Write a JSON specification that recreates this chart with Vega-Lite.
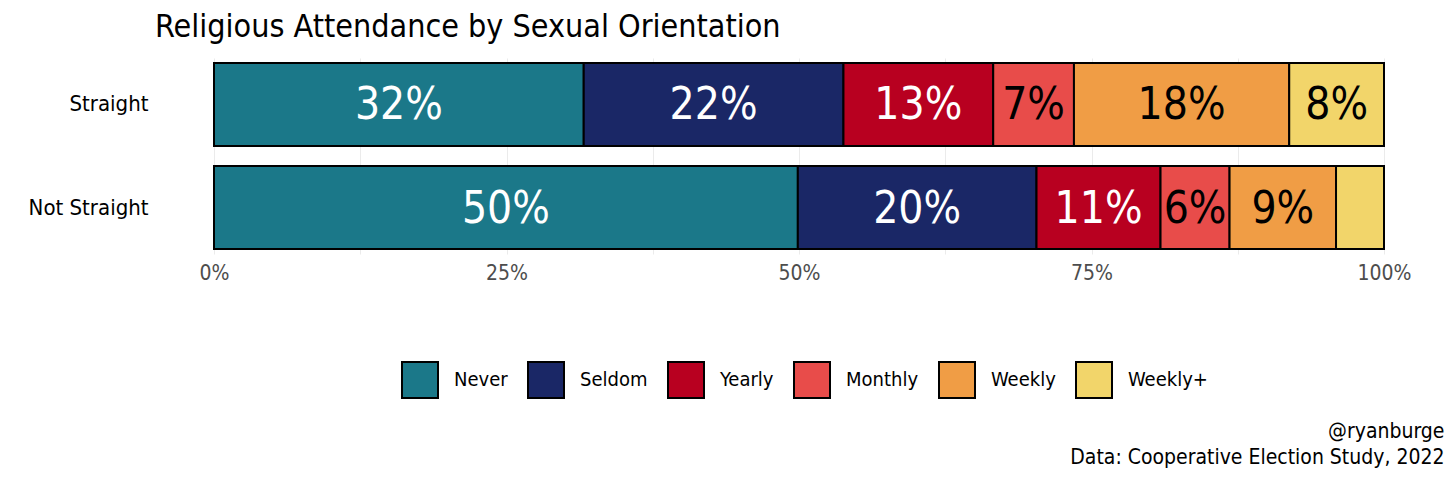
{
  "$schema": "https://vega.github.io/schema/vega-lite/v6.json",
  "autosize": "none",
  "width": 1170,
  "height": 196,
  "padding": {"left": 214, "top": 58, "right": 72, "bottom": 231},
  "background": "white",
  "config": {
    "font": "Liberation Sans Narrow, DejaVu Sans Condensed, sans-serif",
    "view": {"stroke": null}
  },
  "title": {
    "text": "Religious Attendance by Sexual Orientation",
    "anchor": "start",
    "frame": "group",
    "dx": -59,
    "offset": 14,
    "fontSize": 32,
    "fontWeight": "normal",
    "color": "black"
  },
  "data": {
    "values": [
      {"group": "Straight", "attend": "Never", "rank": 1, "pct": 0.316},
      {"group": "Straight", "attend": "Seldom", "rank": 2, "pct": 0.222},
      {"group": "Straight", "attend": "Yearly", "rank": 3, "pct": 0.128},
      {"group": "Straight", "attend": "Monthly", "rank": 4, "pct": 0.069},
      {"group": "Straight", "attend": "Weekly", "rank": 5, "pct": 0.184},
      {"group": "Straight", "attend": "Weekly+", "rank": 6, "pct": 0.081},
      {"group": "Not Straight", "attend": "Never", "rank": 1, "pct": 0.499},
      {"group": "Not Straight", "attend": "Seldom", "rank": 2, "pct": 0.204},
      {"group": "Not Straight", "attend": "Yearly", "rank": 3, "pct": 0.106},
      {"group": "Not Straight", "attend": "Monthly", "rank": 4, "pct": 0.059},
      {"group": "Not Straight", "attend": "Weekly", "rank": 5, "pct": 0.091},
      {"group": "Not Straight", "attend": "Weekly+", "rank": 6, "pct": 0.041}
    ]
  },
  "transform": [
    {"stack": "pct", "groupby": ["group"], "sort": [{"field": "rank", "order": "ascending"}], "as": ["x0", "x1"]},
    {"calculate": "(datum.x0 + datum.x1) / 2", "as": "mid"}
  ],
  "encoding": {
    "y": {
      "field": "group",
      "type": "nominal",
      "sort": ["Straight", "Not Straight"],
      "scale": {"paddingInner": 0.194, "paddingOuter": 0.048},
      "axis": {
        "title": null,
        "domain": false,
        "ticks": false,
        "labelPadding": 66,
        "labelFontSize": 22,
        "labelColor": "black"
      }
    }
  },
  "layer": [
    {
      "mark": {"type": "bar", "stroke": "black", "strokeWidth": 2},
      "encoding": {
        "x": {
          "field": "x0",
          "type": "quantitative",
          "scale": {"domain": [0, 1], "nice": false},
          "axis": {
            "values": [0, 0.125, 0.25, 0.375, 0.5, 0.625, 0.75, 0.875, 1],
            "format": ".0%",
            "labelExpr": "(round(datum.value * 1000) % 250 == 0) ? datum.label : ''",
            "labelFlush": false,
            "domain": false,
            "ticks": false,
            "grid": true,
            "gridColor": "#ebebeb",
            "gridWidth": 1,
            "labelFontSize": 21,
            "labelColor": "#4d4d4d",
            "labelPadding": 8,
            "title": ["@ryanburge", "Data: Cooperative Election Study, 2022"],
            "titleAnchor": "end",
            "titleAlign": "right",
            "titleBaseline": "top",
            "titleX": 1230,
            "titleY": 166,
            "titleFontSize": 21,
            "titleFontWeight": "normal",
            "titleColor": "black",
            "titleLineHeight": 26
          }
        },
        "x2": {"field": "x1"},
        "color": {
          "field": "attend",
          "type": "nominal",
          "sort": ["Never", "Seldom", "Yearly", "Monthly", "Weekly", "Weekly+"],
          "scale": {
            "domain": ["Never", "Seldom", "Yearly", "Monthly", "Weekly", "Weekly+"],
            "range": ["#1b7889", "#1a2766", "#b80020", "#e84c4a", "#f09d45", "#f2d56a"]
          },
          "legend": {
            "title": null,
            "orient": "none",
            "direction": "horizontal",
            "legendX": 187,
            "legendY": 303,
            "symbolType": "square",
            "symbolSize": 1296,
            "symbolStrokeColor": "black",
            "symbolStrokeWidth": 2,
            "labelFontSize": 20,
            "labelColor": "black",
            "labelOffset": 15,
            "columnPadding": 16
          }
        }
      }
    },
    {
      "transform": [{"filter": "datum.pct >= 0.05"}],
      "mark": {"type": "text", "fontSize": 44, "align": "center", "baseline": "middle", "dy": 2},
      "encoding": {
        "x": {"field": "mid", "type": "quantitative"},
        "text": {"field": "pct", "type": "quantitative", "format": ".0%"},
        "color": {
          "condition": {"test": "datum.rank <= 3", "value": "white"},
          "value": "black"
        }
      }
    }
  ]
}
